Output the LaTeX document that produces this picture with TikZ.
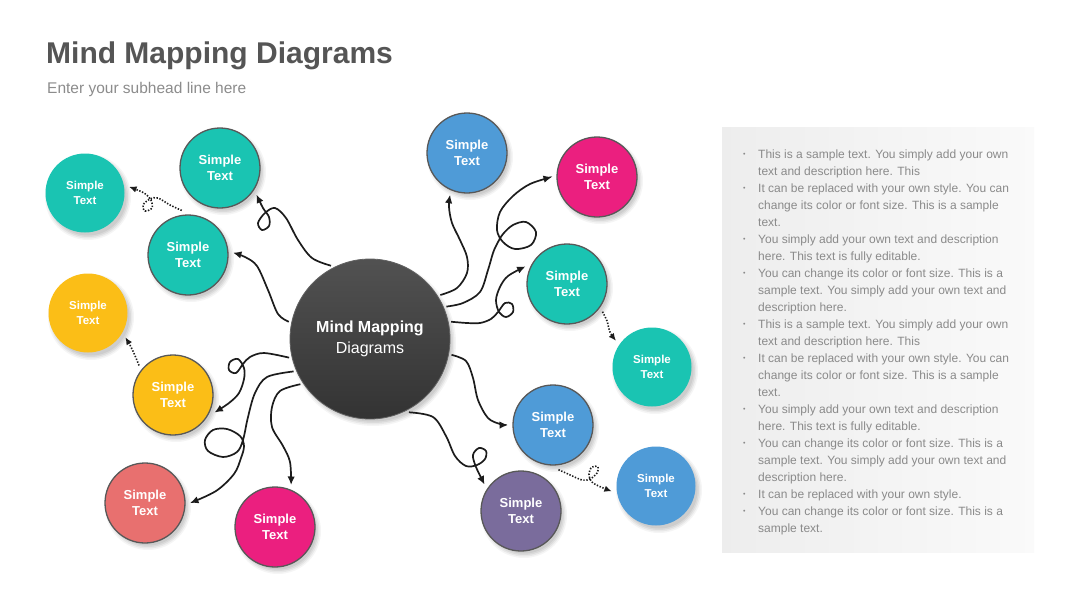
\documentclass[tikz,border=0pt]{standalone}
\usepackage{fontspec}
\setmainfont{Liberation Sans}
\usetikzlibrary{arrows.meta}
\definecolor{tealc}{HTML}{1AC4B2}
\definecolor{yelc}{HTML}{FBBE17}
\definecolor{salc}{HTML}{E8706F}
\definecolor{magc}{HTML}{EB1F7F}
\definecolor{bluec}{HTML}{4F9BD7}
\definecolor{purc}{HTML}{7A6C9C}
\definecolor{bordc}{HTML}{585858}
\definecolor{linec}{HTML}{1C1C1C}
\definecolor{titlec}{HTML}{555555}
\definecolor{subc}{HTML}{8C8C8C}
\definecolor{bodyc}{HTML}{8A8A8A}
\newcommand\bubfont{\bfseries\fontsize{13}{16}\selectfont}
\newcommand\farfont{\bfseries\fontsize{11.5}{15}\selectfont}
\newcommand\shd[3]{%
  \foreach \dd/\oo in {3/0.04,1.5/0.05,0/0.06,-1.5/0.06}{%
    \fill[black,opacity=\oo] (#1+3,#2+4) circle[radius=#3+\dd];}}
\begin{document}
\begin{tikzpicture}[x=1pt,y=-1pt,
  bub/.style={circle,minimum size=80pt,inner sep=0pt,outer sep=5pt,text=white,align=center,font=\bubfont},
  farbub/.style={bub,minimum size=79pt,font=\farfont},
  bord/.style={draw=bordc,line width=1.3pt},
  conn/.style={line width=1.7pt,draw=linec,-{Latex[length=8.5pt,width=7.5pt]}},
  dotc/.style={line width=1.6pt,draw=linec,dash pattern=on 1.4pt off 1.6pt,-{Latex[length=7.5pt,width=6.5pt]}},
  sm/.style={smooth,tension=0.55}]
\fill[white] (0,0) rectangle (1080,608);
\useasboundingbox (0,0) rectangle (1080,608);

% title
\node[anchor=base west,inner sep=0,text=titlec,font=\bfseries\fontsize{30}{35}\selectfont] (title) at (46,63) {Mind Mapping Diagrams};
\node[anchor=base west,inner sep=0,text=subc,font=\fontsize{15.5}{19}\selectfont] (sub) at (47,93) {Enter your subhead line here};

% text panel
\path[left color=black!7,right color=black!2] (722,127) rectangle (1034,552);
\node[anchor=north west,inner sep=0,text=bodyc,font=\fontsize{12}{17}\selectfont] (panel) at (743,146) {%
\begin{tabular}{@{}p{15pt}@{}l@{}}
\raisebox{1.5pt}{\fontsize{7}{17}\selectfont •} & This is a sample text. You simply add your own\\
 & text and description here. This\\
\raisebox{1.5pt}{\fontsize{7}{17}\selectfont •} & It can be replaced with your own style. You can\\
 & change its color or font size. This is a sample\\
 & text.\\
\raisebox{1.5pt}{\fontsize{7}{17}\selectfont •} & You simply add your own text and description\\
 & here. This text is fully editable.\\
\raisebox{1.5pt}{\fontsize{7}{17}\selectfont •} & You can change its color or font size. This is a\\
 & sample text. You simply add your own text and\\
 & description here.\\
\raisebox{1.5pt}{\fontsize{7}{17}\selectfont •} & This is a sample text. You simply add your own\\
 & text and description here. This\\
\raisebox{1.5pt}{\fontsize{7}{17}\selectfont •} & It can be replaced with your own style. You can\\
 & change its color or font size. This is a sample\\
 & text.\\
\raisebox{1.5pt}{\fontsize{7}{17}\selectfont •} & You simply add your own text and description\\
 & here. This text is fully editable.\\
\raisebox{1.5pt}{\fontsize{7}{17}\selectfont •} & You can change its color or font size. This is a\\
 & sample text. You simply add your own text and\\
 & description here.\\
\raisebox{1.5pt}{\fontsize{7}{17}\selectfont •} & It can be replaced with your own style.\\
\raisebox{1.5pt}{\fontsize{7}{17}\selectfont •} & You can change its color or font size. This is a\\
 & sample text.
\end{tabular}};

% shadows
\shd{370}{339}{80}
\foreach \x/\y in {220/168,188/255,173/395,145/503,275/527,467/153,597/177,567/284,553/425,521/511,85/193,88/313,652/367,656/486}{\shd{\x}{\y}{40}}

% bordered bubbles
\foreach \n/\x/\y/\c in {t2/220/168/tealc,t3/188/255/tealc,y2/173/395/yelc,sal/145/503/salc,mg/275/527/magc,b1/467/153/bluec,mr/597/177/magc,tr/567/284/tealc,b2/553/425/bluec,pu/521/511/purc}{
  \node[bub,bord,fill=\c] (\n) at (\x,\y) {Simple\\Text};
}
% far bubbles
\foreach \n/\x/\y/\c in {tf/85/193/tealc,yf/88/313/yelc,trf/652/367/tealc,bf/656/486/bluec}{
  \node[farbub,fill=\c] (\n) at (\x,\y) {Simple\\Text};
}

% center
\node[circle,minimum size=160pt,inner sep=0pt,outer sep=3pt,top color=black!68,bottom color=black!80,draw=black!62,line width=0.8pt,text=white,align=center,font=\fontsize{16}{21}\selectfont] (c) at (370,339) {{\bfseries Mind Mapping}\\Diagrams};

% connectors left
\draw[conn] plot[sm] coordinates {(c.118) (312,258) (298,240) (286,218) (275,208) (265,213) (258,223) (262,230) (269,226) (269,217) (263,208) (t2.-36)};
\draw[conn] plot[sm] coordinates {(c.168) (278,314) (268,290) (257,266) (245,257) (t3.3)};
\draw[conn] plot[sm] coordinates {(c.193) (264,353) (250,357) (243,364) (236,373) (229,370) (230,362) (238,359) (244,368) (244,379) (239,393) (229,403) (y2.-23)};
\draw[conn] plot[sm] coordinates {(c.203) (267,377) (255,393) (248,417) (243,440) (237,452) (223,457) (208,451) (205,440) (213,430) (227,429) (240,436) (244,446) (241,458) (234,474) (216,491) (sal.0)};
\draw[conn] plot[sm] coordinates {(c.213) (280,391) (272,407) (272,427) (283,446) (290,462) (mg.69)};
% connectors right
\draw[conn] plot[sm] coordinates {(c.32) (457,288) (467,273) (467,257) (460,240) (452,223) (449,207) (b1.-112)};
\draw[conn] plot[sm] coordinates {(c.23) (463,303) (480,292) (488,270) (493,253) (497,244) (503,234) (513,225) (526,222) (536,232) (531,245) (515,249) (503,242) (497,230) (500,212) (513,196) (530,184) (mr.180)};
\draw[conn] plot[sm] coordinates {(c.12) (467,323) (480,323) (491,319) (498,312) (505,303) (512,304) (513,312) (506,317) (499,312) (496,300) (500,287) (508,276) (tr.157)};
\draw[conn] plot[sm] coordinates {(c.-11) (466,361) (473,378) (478,400) (488,418) (500,424) (b2.180)};
\draw[conn] plot[sm] coordinates {(c.-62) (433,417) (446,436) (455,456) (466,466) (477,465) (485,459) (486,451) (479,448) (473,455) (476,467) (pu.144)};

% dotted
\draw[dotc] plot[sm] coordinates {(t3.98) (170,205) (158,198) (150,199) (143,205) (145,211) (152,208) (151,200) (144,193) (tf.8)};
\draw[dotc] plot[sm] coordinates {(y2.139) (136,358) (131,347) (yf.-33)};
\draw[dotc] plot[sm] coordinates {(tr.-38) (607,321) (610,332) (trf.144)};
\draw[dotc] plot[sm] coordinates {(b2.-83) (568,474) (582,480) (590,479) (597,473) (598,467) (592,467) (589,474) (593,483) (bf.187)};
\end{tikzpicture}
\end{document}
